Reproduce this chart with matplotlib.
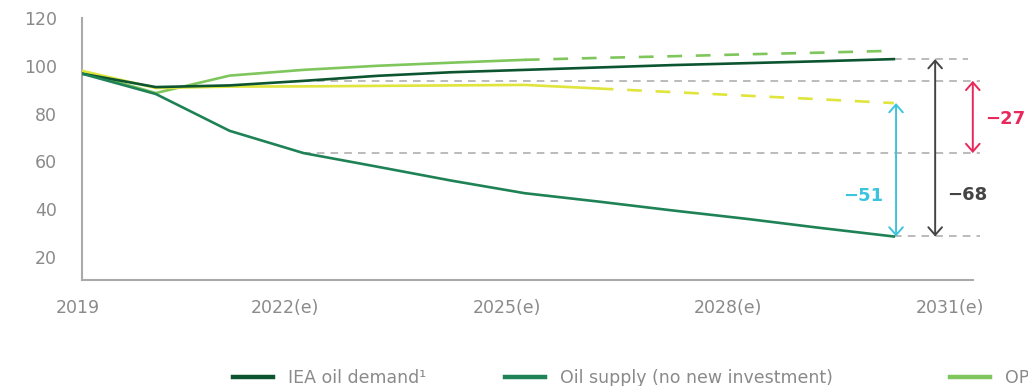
import matplotlib
matplotlib.use("Agg")
import matplotlib.pyplot as plt
import matplotlib.transforms as mtransforms
import numpy as np

# datos (millones de barriles por dia)
years = np.array([2019, 2020, 2021, 2022, 2023, 2024, 2025, 2026, 2027, 2028, 2029, 2030])
demand = np.array([96.7, 91.1, 91.8, 93.7, 95.8, 97.3, 98.3, 99.3, 100.3, 101.1, 101.9, 102.8])
supply_no_inv = np.array([96.7, 88.2, 72.8, 63.5, 57.8, 52.0, 46.7, 43.2, 39.5, 36.0, 32.2, 28.6])
opec = np.array([97.5, 88.6, 95.9, 98.3, 100.0, 101.3, 102.5, 103.3, 104.0, 104.8, 105.5, 106.3])
yellow = np.array([97.9, 90.7, 91.3, 91.4, 91.6, 91.8, 92.0, 90.5, 89.0, 87.5, 86.0, 84.4])

opec_solid_until = 2025
yellow_solid_until = 2026

xtick_years = [2019, 2022, 2025, 2028, 2031]
xtick_labels = ["2019", "2022(e)", "2025(e)", "2028(e)", "2031(e)"]
yticks = [20, 40, 60, 80, 100, 120]

gap_labels = ["\u221251", "\u221268", "\u221227"]
# la tercera entrada esta cortada en el original (solo se ve "OP")
legend_labels = ["IEA oil demand\u00b9", "Oil supply (no new investment)", "OPEC+ supply"]

c_demand = "#0c5530"
c_supply = "#1f8257"
c_opec = "#7fc65c"
c_yellow = "#dfe53c"
c_cyan = "#3cc4df"
c_dark = "#444444"
c_red = "#e8285b"
c_gray = "#a8a8a8"
c_text = "#8a8a8a"

fig = plt.figure(figsize=(10.28, 3.86), dpi=100)
ax = fig.add_axes([0.0798, 0.2746, 0.8665, 0.6788])

lw = 1.9
dash_serie = (5.6, 5.2)

h_dem, = ax.plot(years, demand, color=c_demand, lw=lw, zorder=4)
h_sup, = ax.plot(years, supply_no_inv, color=c_supply, lw=lw, zorder=4)

m = years <= opec_solid_until
h_opec, = ax.plot(years[m], opec[m], color=c_opec, lw=lw, zorder=3)
m2 = years >= opec_solid_until
ax.plot(years[m2], opec[m2], color=c_opec, lw=lw, dashes=dash_serie, zorder=3)

m = years <= yellow_solid_until
ax.plot(years[m], yellow[m], color=c_yellow, lw=lw, zorder=3)
m2 = years >= yellow_solid_until
ax.plot(years[m2], yellow[m2], color=c_yellow, lw=lw, dashes=dash_serie, zorder=3)

# lineas de referencia grises discontinuas
i22 = list(years).index(2022)
dash_ref = dict(color=c_gray, lw=1.1, dashes=(5.0, 4.0), clip_on=False, zorder=2)
ax.plot([2022, 2031.17], [demand[i22]] * 2, **dash_ref)
ax.plot([2022, 2031.17], [supply_no_inv[i22]] * 2, **dash_ref)
ax.plot([2030, 2031.0], [demand[-1]] * 2, **dash_ref)
ax.plot([2030, 2031.17], [supply_no_inv[-1]] * 2, **dash_ref)


# flechas de brecha
def flecha(x, y0, y1, color):
    ax.annotate("", xy=(x, y0), xytext=(x, y1), annotation_clip=False,
                arrowprops=dict(arrowstyle="<->,head_length=0.4,head_width=0.35",
                                color=color, lw=1.4, shrinkA=0, shrinkB=0,
                                mutation_scale=14))


flecha(2030.03, yellow[-1], supply_no_inv[-1], c_cyan)
flecha(2030.56, demand[-1], supply_no_inv[-1], c_dark)
flecha(2031.07, demand[i22], supply_no_inv[i22], c_red)

ax.text(2029.86, 45.5, gap_labels[0], color=c_cyan, fontsize=13, fontweight="bold",
        ha="right", va="center")
ax.text(2030.72, 46.0, gap_labels[1], color=c_dark, fontsize=13, fontweight="bold",
        ha="left", va="center")
ax.text(2031.24, 77.7, gap_labels[2], color=c_red, fontsize=13, fontweight="bold",
        ha="left", va="center", clip_on=False)

ax.set_xlim(2019, 2031.07)
ax.set_ylim(10.4, 120)
ax.set_yticks(yticks)
ax.set_xticks(xtick_years)
ax.set_xticklabels(xtick_labels)
ax.tick_params(axis="both", length=0, labelsize=12.5, labelcolor=c_text)
ax.tick_params(axis="y", pad=18)
ax.tick_params(axis="x", pad=14)

# desplazamiento de las etiquetas del eje x como en el original
offsets_px = [-4, -18, -18, -18, -18]
for lab, dx in zip(ax.get_xticklabels(), offsets_px):
    lab.set_transform(lab.get_transform() +
                      mtransforms.ScaledTranslation(dx / 100, 0, fig.dpi_scale_trans))

for s in ["top", "right"]:
    ax.spines[s].set_visible(False)
for s in ["left", "bottom"]:
    ax.spines[s].set_color("#aaaaaa")
    ax.spines[s].set_linewidth(1.5)

# leyenda: una entrada por leyenda para fijar su posicion
handles = [h_dem, h_sup, h_opec]
legend_x_px = [233, 505, 950]
for h, lab, xp in zip(handles, legend_labels, legend_x_px):
    leg = fig.legend([h], [lab], loc="center left", bbox_to_anchor=(xp / 1028, 0.02),
                     frameon=False, fontsize=12.5, handlelength=2.3, handletextpad=0.85,
                     borderpad=0, borderaxespad=0)
    for t in leg.get_texts():
        t.set_color(c_text)
    for l in leg.get_lines():
        l.set_linewidth(3.2)

fig.savefig("out.png", dpi=100)
